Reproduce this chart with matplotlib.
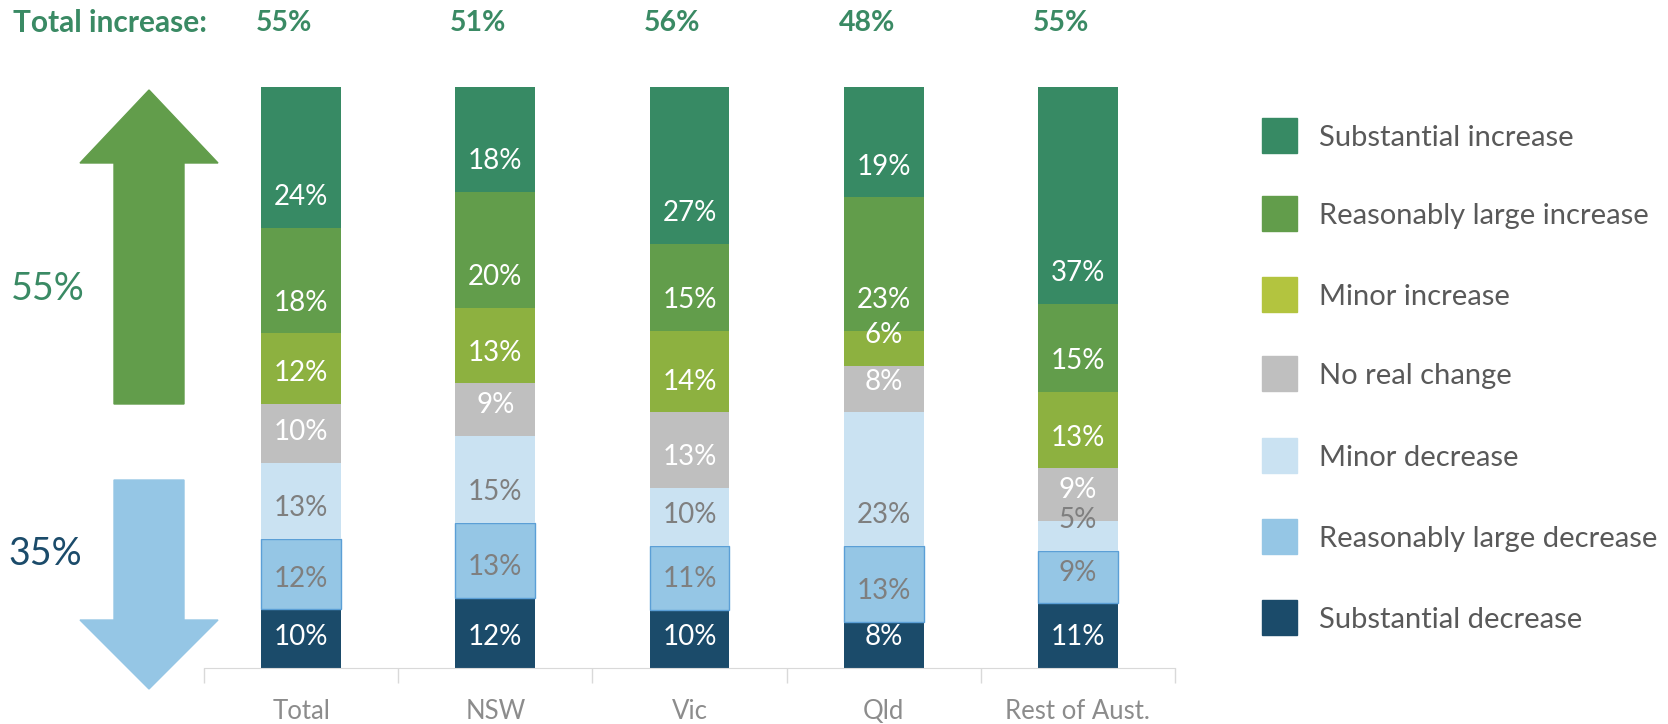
import matplotlib.pyplot as plt
from matplotlib.patches import Polygon, Rectangle
import numpy as np

plt.rcParams['font.family'] = ['Lato', 'DejaVu Sans']

# Datos
regiones = ["Total", "NSW", "Vic", "Qld", "Rest of Aust."]
categorias = ["Substantial decrease", "Reasonably large decrease", "Minor decrease",
              "No real change", "Minor increase", "Reasonably large increase",
              "Substantial increase"]
sust_dec = [10, 12, 10, 8, 11]
rl_dec = [12, 13, 11, 13, 9]
minor_dec = [13, 15, 10, 23, 5]
sin_cambio = [10, 9, 13, 8, 9]
minor_inc = [12, 13, 14, 6, 13]
rl_inc = [18, 20, 15, 23, 15]
sust_inc = [24, 18, 27, 19, 37]
total_aumento = [55, 51, 56, 48, 55]
aumento_total = 55
baja_total = 35

series = [sust_dec, rl_dec, minor_dec, sin_cambio, minor_inc, rl_inc, sust_inc]
colores_barra = ["#1b4b6a", "#95c6e5", "#cae2f2", "#bfbfbf", "#8db140", "#629d4b", "#378a64"]
colores_leyenda = ["#1b4b6a", "#95c6e5", "#cae2f2", "#bfbfbf", "#b3c43f", "#629d4b", "#378a64"]
colores_texto = ["white", "#7f7f7f", "#7f7f7f", "white", "white", "white", "white"]
verde = "#3a8a64"

W, H = 1668, 724
fig = plt.figure(figsize=(W / 100, H / 100), dpi=100)

def px(x, y):
    return (x / W, 1 - y / H)

ax = fig.add_axes([204 / W, 1 - 668 / H, 971 / W, 581 / H])

x = np.arange(len(regiones))
totales = np.sum(series, axis=0)
base = np.zeros(len(regiones))
for vals, c, tc in zip(series, colores_barra, colores_texto):
    h = np.array(vals) / totales * 100
    ec = "#5b9fd6" if c == "#95c6e5" else "none"
    ax.bar(x, h, bottom=base, width=0.41, color=c, edgecolor=ec, linewidth=1)
    for xi, b, v in zip(x, base, vals):
        ax.text(xi, b + 5.3, f"{v}%", ha="center", va="center", color=tc, fontsize=20)
    base += h

ax.set_xlim(-0.5, 4.5)
ax.set_ylim(0, 100)
ax.set_xticks(x)
ax.set_xticklabels(regiones, fontsize=18.5, color="#8c8c8c")
ax.set_xticks(np.arange(-0.5, 5, 1), minor=True)
ax.tick_params(axis="x", which="major", length=0, pad=22)
ax.tick_params(axis="x", which="minor", length=11, color="#d9d9d9", width=1)
ax.set_yticks([])
for s in ["top", "right", "left"]:
    ax.spines[s].set_visible(False)
ax.spines["bottom"].set_color("#d9d9d9")

# Encabezado
fig.text(*px(13, 23), "Total increase:", ha="left", va="center", fontsize=21.5,
         fontweight="bold", color=verde)
for xi, t in zip(x, total_aumento):
    xf = (ax.transData.transform((xi, 0))[0] - 17) / W
    fig.text(xf, 1 - 23 / H, f"{t}%", ha="center", va="center", fontsize=20.5,
             fontweight="bold", color=verde)

# Flechas
arriba = [(149, 90), (218, 163), (184, 163), (184, 404), (114, 404), (114, 163), (80, 163)]
abajo = [(114, 480), (184, 480), (184, 620), (218, 620), (149, 689), (80, 620), (114, 620)]
fig.patches.append(Polygon([px(a, b) for a, b in arriba], closed=True,
                           transform=fig.transFigure, color="#629d4b"))
fig.patches.append(Polygon([px(a, b) for a, b in abajo], closed=True,
                           transform=fig.transFigure, color="#95c6e5"))
fig.text(*px(48, 289), f"{aumento_total}%", ha="center", va="center", fontsize=27, color=verde)
fig.text(*px(45, 554), f"{baja_total}%", ha="center", va="center", fontsize=27, color="#1b4b6a")

# Leyenda
filas_y = [136, 214, 295, 374, 456, 537, 618]
for y, cat, c in zip(filas_y, categorias[::-1], colores_leyenda[::-1]):
    x0, y0 = px(1262, y + 17)
    fig.patches.append(Rectangle((x0, y0), 35 / W, 35 / H, transform=fig.transFigure, color=c))
    fig.text(*px(1319, y + 2), cat, ha="left", va="center", fontsize=21, color="#595959")

fig.savefig("out.png", dpi=100)
